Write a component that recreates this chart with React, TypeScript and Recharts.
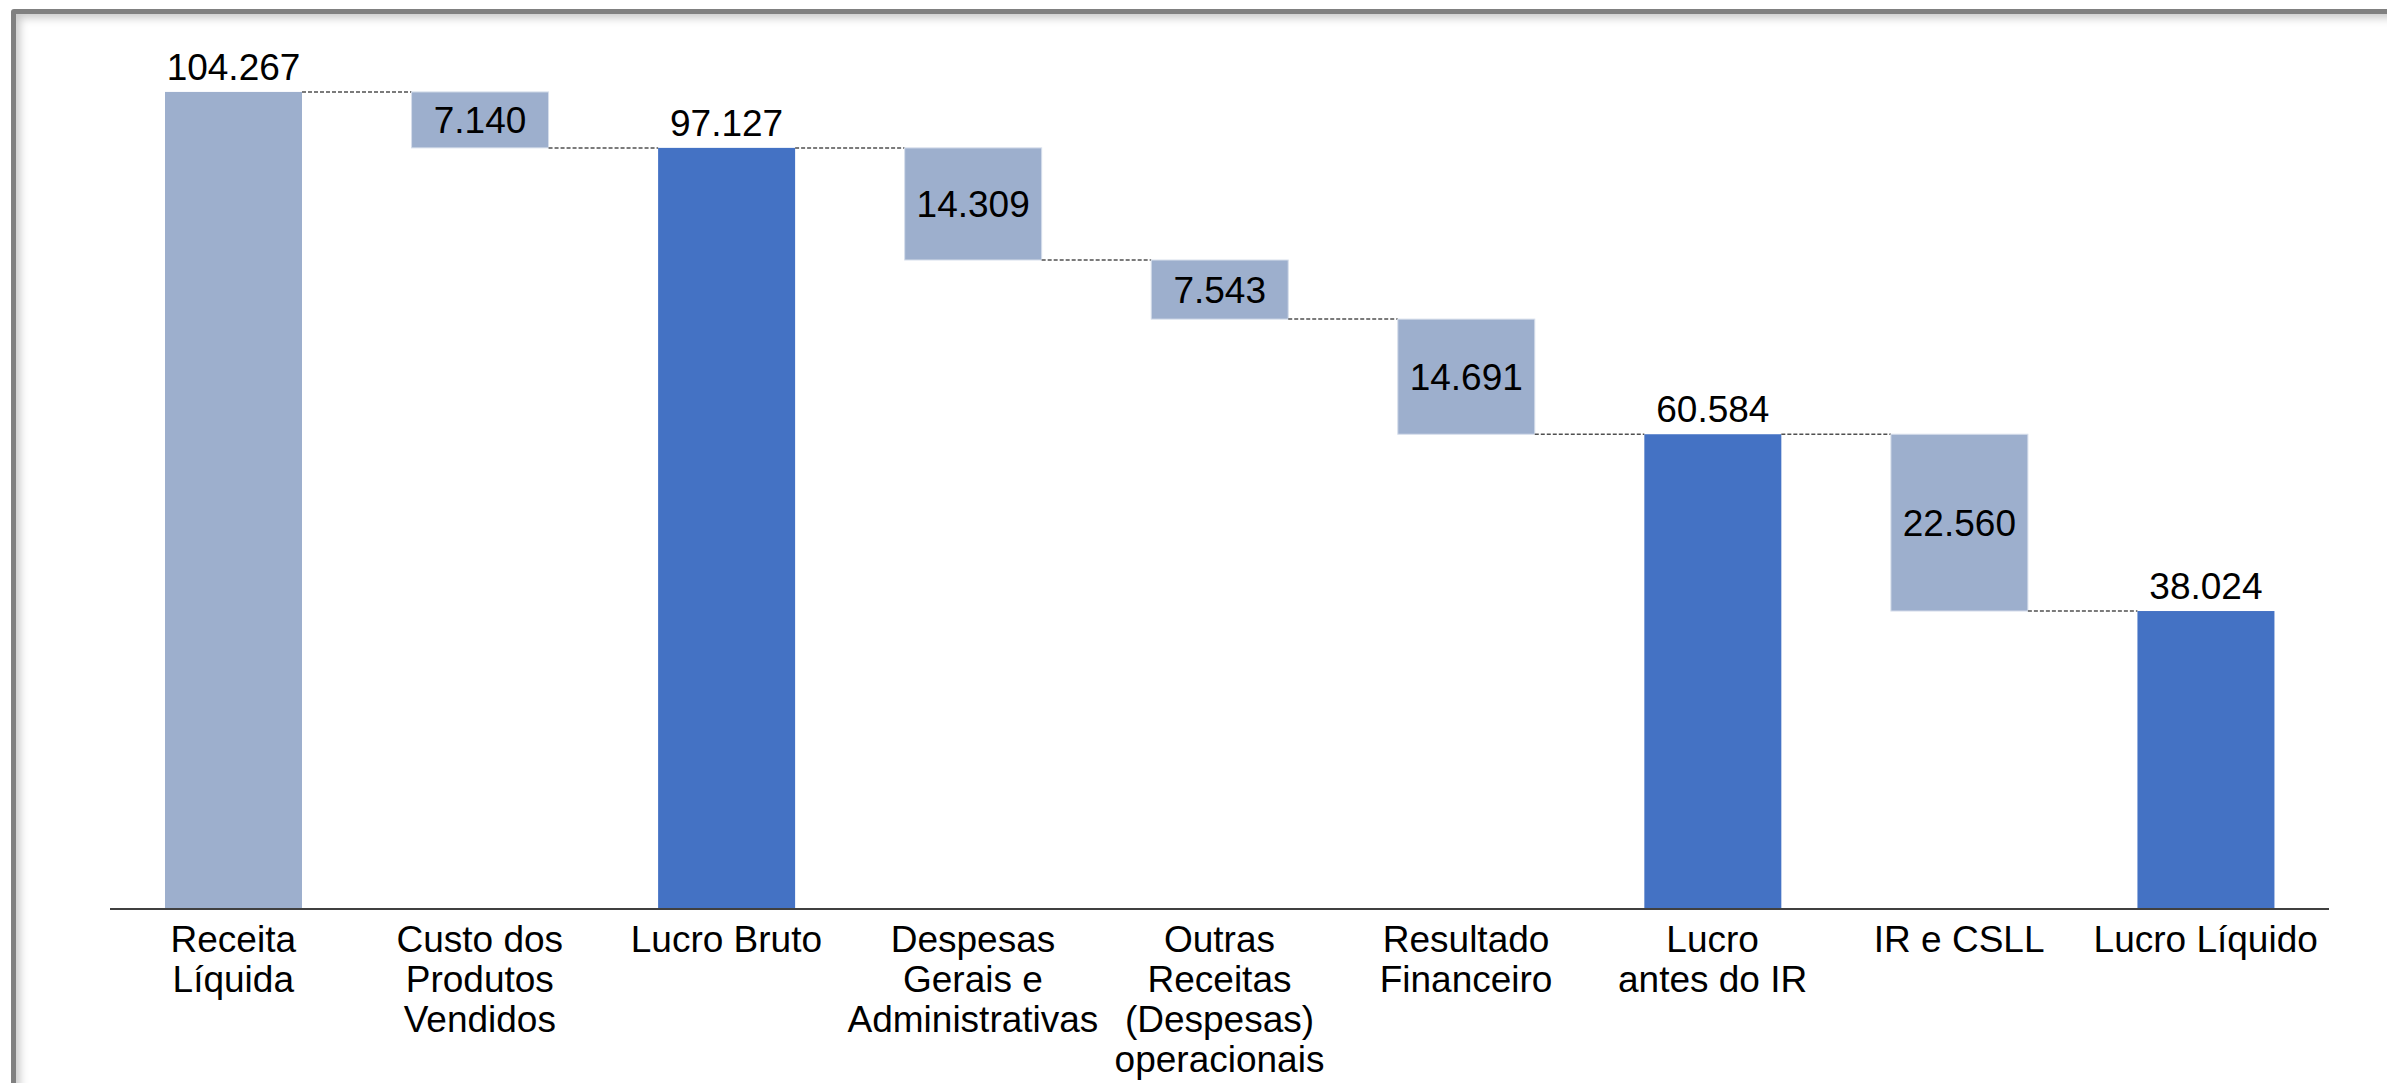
import React from 'react';
import { BarChart, Bar, XAxis, YAxis } from 'recharts';

const categories = [
  'Receita Líquida',
  'Custo dos Produtos Vendidos',
  'Lucro Bruto',
  'Despesas Gerais e Administrativas',
  'Outras Receitas (Despesas) operacionais',
  'Resultado Financeiro',
  'Lucro antes do IR',
  'IR e CSLL',
  'Lucro Líquido',
];
const tickLines = [
  ['Receita', 'Líquida'],
  ['Custo dos', 'Produtos', 'Vendidos'],
  ['Lucro Bruto'],
  ['Despesas', 'Gerais e', 'Administrativas'],
  ['Outras', 'Receitas', '(Despesas)', 'operacionais'],
  ['Resultado', 'Financeiro'],
  ['Lucro', 'antes do IR'],
  ['IR e CSLL'],
  ['Lucro Líquido'],
];
const amounts = [104.267, 7.14, 97.127, 14.309, 7.543, 14.691, 60.584, 22.56, 38.024];
// 'start' = first total (light), 'step' = decrement (light floating), 'total' = subtotal (dark)
const kinds = ['start', 'step', 'total', 'step', 'step', 'step', 'total', 'step', 'total'];

const W = 2387;
const H = 1083;
const MARGIN = { top: 47, right: 58, bottom: 14, left: 110 };
const BAR_SIZE = 137;
const PLOT_W = W - MARGIN.left - MARGIN.right;
const BAND = PLOT_W / categories.length;
const GAP = BAND - BAR_SIZE;

const LIGHT = '#9DAFCD';
const DARK = '#4472C4';
const FONT = '"Liberation Sans", Arial, sans-serif';
const FS = 37;

const data = (() => {
  let running = 0;
  return categories.map((name, i) => {
    const kind = kinds[i];
    let base = 0;
    if (kind === 'step') {
      base = running - amounts[i];
      running = base;
    } else {
      running = amounts[i];
    }
    return { name, base, value: amounts[i], kind, idx: i };
  });
})();

const WaterfallShape = (props: any) => {
  const { x, y, width, height, payload } = props;
  const kind = payload.kind;
  const i = payload.idx;
  const fill = kind === 'total' ? DARK : LIGHT;
  const level = kind === 'step' ? y + height : y;
  const label = payload.value.toFixed(3);
  const labelY = kind === 'step' ? y + height / 2 + 13 : y - 12;
  return (
    <g>
      <rect
        x={x}
        y={y}
        width={width}
        height={height}
        fill={fill}
        stroke={kind === 'step' ? '#D6DEEB' : 'none'}
        strokeWidth={kind === 'step' ? 1 : 0}
      />
      {i < categories.length - 1 && (
        <line
          x1={x + width}
          x2={x + width + GAP}
          y1={level}
          y2={level}
          stroke="#505050"
          strokeWidth={1.5}
          strokeDasharray="4 2"
        />
      )}
      <text
        x={x + width / 2}
        y={labelY}
        textAnchor="middle"
        fontFamily={FONT}
        fontSize={FS}
        fill="#000"
      >
        {label}
      </text>
    </g>
  );
};

const MultiLineTick = (props: any) => {
  const { x, y, index } = props;
  const lines = tickLines[index] || [];
  return (
    <g>
      {lines.map((ln: string, k: number) => (
        <text
          key={k}
          x={x}
          y={y + 43 + k * 40}
          textAnchor="middle"
          fontFamily={FONT}
          fontSize={FS}
          fill="#000"
        >
          {ln}
        </text>
      ))}
    </g>
  );
};

export default function App() {
  return (
    <div
      style={{
        position: 'absolute',
        left: 0,
        top: 0,
        width: W,
        height: H,
        overflow: 'hidden',
        background: '#fff',
      }}
    >
      <div
        style={{
          position: 'absolute',
          left: 11,
          top: 9,
          width: 2440,
          height: 1140,
          border: '5px solid #808080',
          borderRadius: 3,
          boxShadow: 'inset 4px 4px 8px rgba(0,0,0,0.22)',
          background: '#fff',
        }}
      />
      <div style={{ position: 'absolute', left: 0, top: 0 }}>
        <BarChart width={W} height={H} data={data} margin={MARGIN} barSize={BAR_SIZE}>
          <XAxis
            dataKey="name"
            height={160}
            interval={0}
            tickLine={false}
            tickSize={0}
            tickMargin={0}
            axisLine={{ stroke: '#404040', strokeWidth: 2 }}
            tick={<MultiLineTick />}
          />
          <YAxis hide domain={[0, 110]} />
          <Bar dataKey="base" stackId="a" fill="transparent" isAnimationActive={false} />
          <Bar dataKey="value" stackId="a" isAnimationActive={false} shape={<WaterfallShape />} />
        </BarChart>
      </div>
    </div>
  );
}
